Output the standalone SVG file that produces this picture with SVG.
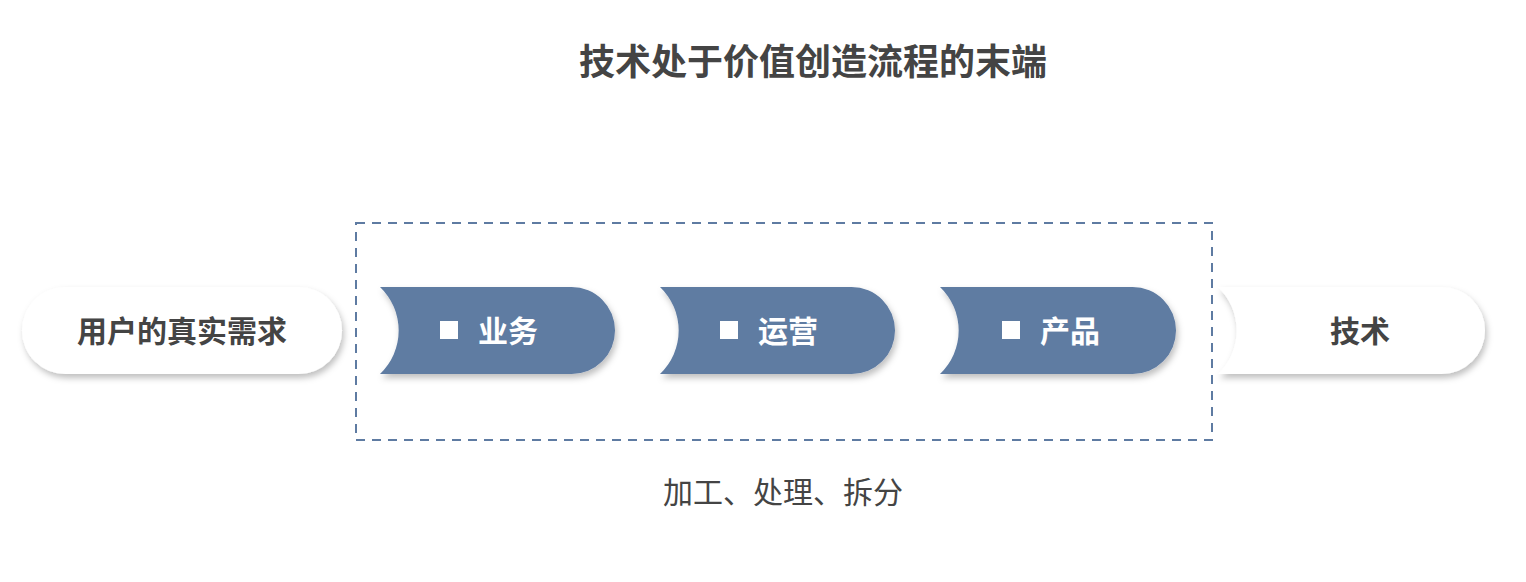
<svg xmlns="http://www.w3.org/2000/svg" width="1526" height="582" viewBox="0 0 1526 582">
<defs>
<filter id="sh" x="-10%" y="-20%" width="120%" height="150%"><feDropShadow dx="2" dy="4" stdDeviation="3" flood-color="#000" flood-opacity="0.25"/></filter>
</defs>
<style>
.t{font-family:"Noto Sans CJK SC",sans-serif;font-weight:bold;}
.b{fill:#5e7ba2;filter:url(#sh);}
.w{fill:#fff;filter:url(#sh);}
.bt{fill:#fff;font-size:30px;font-family:"Noto Sans CJK SC",sans-serif;font-weight:bold;}
.dk{fill:#444;}
</style>
<rect width="1526" height="582" fill="#fff"/>
<text x="813" y="75" text-anchor="middle" class="t dk" font-size="36">技术处于价值创造流程的末端</text>
<g id="connectors">
<rect x="356" y="223" width="856" height="217" fill="none" stroke="#5e7ba2" stroke-width="2" stroke-dasharray="9,7"/>
</g>
<g id="n-need">
<rect x="22" y="287" width="320" height="87" rx="43.5" class="w"/>
<text x="182" y="342" text-anchor="middle" class="t dk" font-size="30">用户的真实需求</text>
</g>
<g id="n-biz">
<path d="M380,287 H571.5 A43.5,43.5 0 0 1 571.5,374 H380 A60,60 0 0 0 380,287 Z" class="b"/>
<rect x="440" y="321" width="18" height="18" fill="#fff"/>
<text x="478" y="342" class="bt">业务</text>
</g>
<g id="n-ops">
<path d="M660,287 H851.5 A43.5,43.5 0 0 1 851.5,374 H660 A60,60 0 0 0 660,287 Z" class="b"/>
<rect x="720" y="321" width="18" height="18" fill="#fff"/>
<text x="758" y="342" class="bt">运营</text>
</g>
<g id="n-prod">
<path d="M940,287 H1132.5 A43.5,43.5 0 0 1 1132.5,374 H940 A60,60 0 0 0 940,287 Z" class="b"/>
<rect x="1002" y="321" width="18" height="18" fill="#fff"/>
<text x="1040" y="342" class="bt">产品</text>
</g>
<g id="n-tech">
<path d="M1218,287 H1441.5 A43.5,43.5 0 0 1 1441.5,374 H1218 A60,60 0 0 0 1218,287 Z" class="w"/>
<text x="1360" y="342" text-anchor="middle" class="t dk" font-size="30">技术</text>
</g>
<text x="783" y="503" text-anchor="middle" font-family="Noto Sans CJK SC,sans-serif" font-size="30" fill="#444">加工、处理、拆分</text>
</svg>
